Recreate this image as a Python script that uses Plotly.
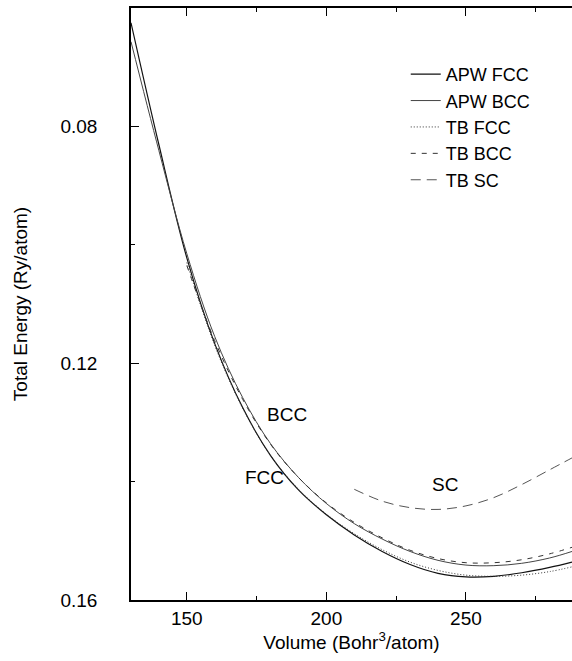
import plotly.graph_objects as go

# Volumes (Bohr^3/atom)
vol_apw = [130, 140, 150, 160, 170, 180, 190, 200, 210, 220, 230, 240, 250, 260, 270, 280, 288]
apw_fcc = [0.0625, 0.0831, 0.1022, 0.1167, 0.1275, 0.1356, 0.1414, 0.1456, 0.1490, 0.1518,
           0.1540, 0.1555, 0.1561, 0.1560, 0.1554, 0.1545, 0.1536]
apw_bcc = [0.0657, 0.0841, 0.1015, 0.1155, 0.1258, 0.1336, 0.1393, 0.1437, 0.1471, 0.1497,
           0.1518, 0.1533, 0.1541, 0.1542, 0.1538, 0.1529, 0.1518]

vol_tb = [150, 160, 170, 180, 190, 200, 210, 220, 230, 240, 250, 260, 270, 280, 288]
tb_fcc = [0.1030, 0.1170, 0.1276, 0.1356, 0.1413, 0.1455, 0.1488, 0.1515, 0.1536, 0.1550,
          0.1558, 0.1560, 0.1558, 0.1552, 0.1544]
tb_bcc = [0.1035, 0.1162, 0.1261, 0.1337, 0.1393, 0.1436, 0.1469, 0.1495, 0.1516, 0.1530,
          0.1537, 0.1537, 0.1532, 0.1522, 0.1511]

vol_sc = [210, 220, 230, 240, 250, 260, 270, 280, 288]
tb_sc = [0.1413, 0.1433, 0.1444, 0.1447, 0.1441, 0.1427, 0.1405, 0.1380, 0.1360]

y_ticks = [0.08, 0.12, 0.16]

FONT = "Liberation Sans, Arial, Helvetica, sans-serif"

fig = go.Figure()
fig.add_trace(go.Scatter(x=vol_apw, y=apw_fcc, mode="lines", name="APW FCC",
                         line=dict(color="#111111", width=1.2, shape="spline")))
fig.add_trace(go.Scatter(x=vol_apw, y=apw_bcc, mode="lines", name="APW BCC",
                         line=dict(color="#444444", width=1.0, shape="spline")))
fig.add_trace(go.Scatter(x=vol_tb, y=tb_fcc, mode="lines", name="TB FCC",
                         line=dict(color="#333333", width=1.0, dash="1px,2px", shape="spline")))
fig.add_trace(go.Scatter(x=vol_tb, y=tb_bcc, mode="lines", name="TB BCC",
                         line=dict(color="#333333", width=1.0, dash="5px,6px", shape="spline")))
fig.add_trace(go.Scatter(x=vol_sc, y=tb_sc, mode="lines", name="TB SC",
                         line=dict(color="#555555", width=1.0, dash="10px,6px", shape="spline")))

for txt, xv, yv in [("BCC", 185.9, 0.1287), ("FCC", 177.7, 0.1393), ("SC", 242.5, 0.1405)]:
    fig.add_annotation(x=xv, y=yv, text=txt, showarrow=False,
                       font=dict(family=FONT, size=19, color="black"))

fig.update_layout(
    width=572, height=661,
    margin=dict(l=131, r=0, t=8, b=61),
    paper_bgcolor="white", plot_bgcolor="white",
    font=dict(family=FONT, size=19, color="black"),
    showlegend=True,
    legend=dict(x=0.623, y=0.919, xanchor="left", yanchor="top",
                bgcolor="rgba(0,0,0,0)", font=dict(family=FONT, size=18),
                tracegroupgap=0, itemwidth=30),
    xaxis=dict(range=[130, 288], tickmode="linear", tick0=150, dtick=50,
               ticks="inside", ticklen=8, tickwidth=1.2, tickcolor="black",
               showline=True, linecolor="black", linewidth=1.5, mirror="ticks",
               showgrid=False, zeroline=False,
               minor=dict(ticks="inside", ticklen=4, tick0=150, dtick=25, tickcolor="black", showgrid=False),
               ticklabelstandoff=0,
               title=dict(text="Volume (Bohr<sup>3</sup>/atom)", standoff=4,
                          font=dict(family=FONT, size=19))),
    yaxis=dict(range=[0.16, 0.06], tickmode="array", tickvals=y_ticks,
               ticktext=[f"{v:.2f}" for v in y_ticks],
               ticks="inside", ticklen=8, tickwidth=1.2, tickcolor="black",
               showline=True, linecolor="black", linewidth=1.5, mirror=False,
               showgrid=False, zeroline=False,
               minor=dict(ticks="inside", ticklen=4, tickvals=[0.06, 0.10, 0.14], tickcolor="black", showgrid=False),
               ticklabelstandoff=28,
               title=dict(text="Total Energy (Ry/atom)", standoff=28,
                          font=dict(family=FONT, size=19))),
)

fig.write_html("out.html")
